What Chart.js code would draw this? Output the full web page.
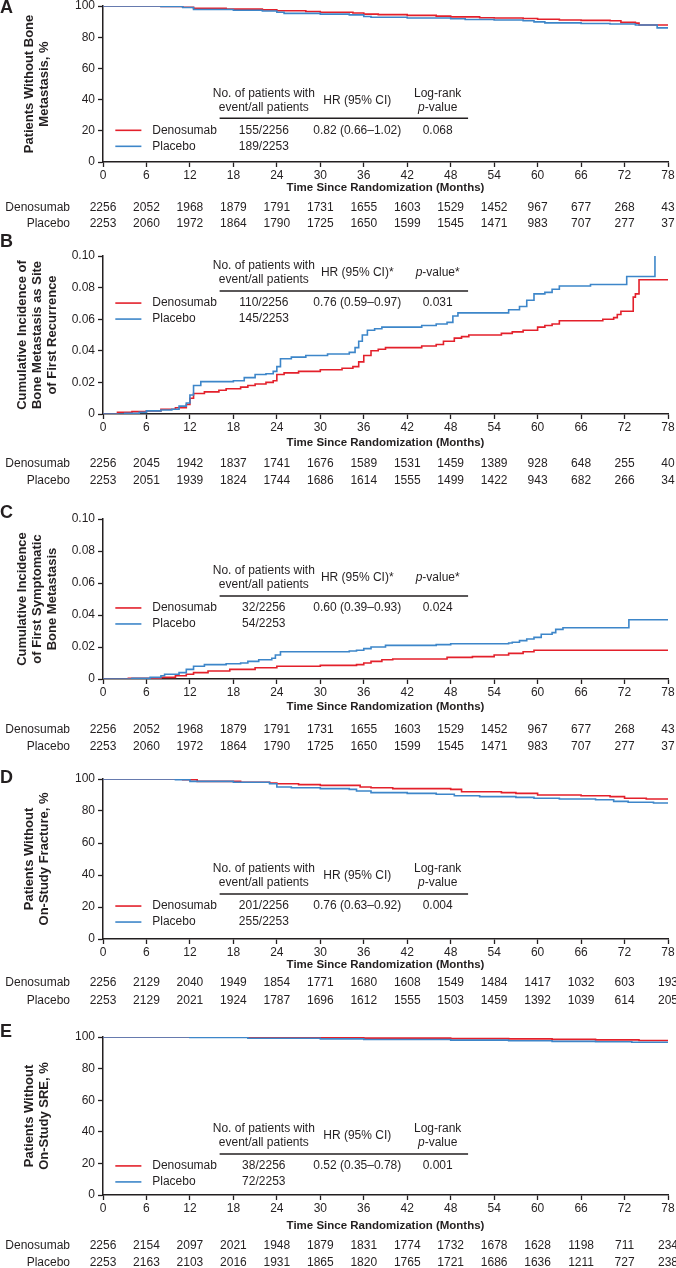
<!DOCTYPE html>
<html>
<head>
<meta charset="utf-8">
<script src="https://cdn.jsdelivr.net/npm/chart.js@4.4.0/dist/chart.umd.min.js"></script>
<style>
    body { margin: 0; background: #fff; width: 676px; height: 1268px; position: relative; overflow: hidden; }
    canvas { position: absolute; left: 0; }
</style>
</head>
<body>
<script>
// ========= Datos =========
const mesesTicks = [0, 6, 12, 18, 24, 30, 36, 42, 48, 54, 60, 66, 72, 78];
const ticksPct = [0, 20, 40, 60, 80, 100];
const ticksInc = [0, 0.02, 0.04, 0.06, 0.08, 0.10];
const nombres = ['Denosumab', 'Placebo'];

// A - sin metastasis osea
const tiempoA_deno = [0, 8, 11, 12.5, 17, 22, 24, 28, 30, 34.5, 36, 38, 42, 46, 48, 52, 54, 58, 60, 63, 66, 70, 71.5, 73.5, 74, 78];
const valorA_deno = [100, 99.7, 99.2, 98.5, 98, 97.5, 97, 96.5, 96, 95.5, 94.8, 94.5, 94, 93.5, 93, 92.5, 92.3, 92, 91.5, 91, 90.8, 90.5, 89.5, 89, 87.8, 87.8];
const tiempoA_plac = [0, 8, 11, 12.5, 18, 22, 24, 25, 30, 34, 36, 37, 42, 48, 50, 54, 58, 59.5, 61, 66, 70, 73.5, 76.5, 78];
const valorA_plac = [100, 99.7, 99, 97.8, 97.3, 96.8, 96, 95.3, 94.8, 94.3, 93.3, 92.8, 92.3, 91.8, 91.3, 91, 90.5, 89.8, 89.2, 88.8, 88.5, 87.8, 86, 86];
const riesgoA_deno = [2256, 2052, 1968, 1879, 1791, 1731, 1655, 1603, 1529, 1452, 967, 677, 268, 43];
const riesgoA_plac = [2253, 2060, 1972, 1864, 1790, 1725, 1650, 1599, 1545, 1471, 983, 707, 277, 37];
const eventosA = ['155/2256', '189/2253'];
const hrA = '0.82 (0.66–1.02)';
const pA = '0.068';

// B - incidencia acumulada, primera recurrencia
const tiempoB_deno = [0, 2, 4, 6, 8, 10, 11.5, 12, 12.5, 14, 16, 17, 19, 20, 21, 22.5, 23.5, 24, 25, 27, 30, 33, 34.5, 35.3, 36, 37, 38, 39, 43, 44, 46, 47, 48.5, 49.5, 50.5, 55, 56.5, 58, 60, 61, 62, 63, 69, 70.5, 71, 71.5, 73.2, 73.5, 74, 78];
const valorB_deno = [0, 0.001, 0.0015, 0.002, 0.003, 0.004, 0.006, 0.010, 0.013, 0.014, 0.015, 0.016, 0.017, 0.018, 0.019, 0.020, 0.021, 0.025, 0.026, 0.027, 0.028, 0.029, 0.030, 0.033, 0.037, 0.040, 0.041, 0.042, 0.042, 0.043, 0.044, 0.046, 0.048, 0.049, 0.050, 0.051, 0.052, 0.053, 0.055, 0.056, 0.057, 0.059, 0.060, 0.061, 0.063, 0.065, 0.074, 0.076, 0.085, 0.085];
const tiempoB_plac = [0, 3, 5, 6, 8, 9.5, 10.5, 11.5, 12, 12.5, 13.5, 18, 19.5, 21, 22.5, 23.5, 24, 24.5, 26, 28, 31, 34, 34.8, 35.3, 35.8, 36.5, 37.5, 38.5, 44, 46, 47.5, 48.3, 49, 56, 57.5, 58.5, 59.5, 61, 62, 63, 67.3, 72.3, 76.2];
const valorB_plac = [0, 0.0005, 0.001, 0.002, 0.0025, 0.003, 0.005, 0.007, 0.012, 0.018, 0.0205, 0.021, 0.023, 0.025, 0.0255, 0.027, 0.030, 0.035, 0.036, 0.037, 0.038, 0.039, 0.042, 0.046, 0.050, 0.053, 0.054, 0.055, 0.056, 0.057, 0.058, 0.062, 0.064, 0.066, 0.068, 0.072, 0.076, 0.077, 0.079, 0.081, 0.082, 0.087, 0.100];
const riesgoB_deno = [2256, 2045, 1942, 1837, 1741, 1676, 1589, 1531, 1459, 1389, 928, 648, 255, 40];
const riesgoB_plac = [2253, 2051, 1939, 1824, 1744, 1686, 1614, 1555, 1499, 1422, 943, 682, 266, 34];
const eventosB = ['110/2256', '145/2253'];
const hrB = '0.76 (0.59–0.97)';
const pB = '0.031';

// C - primera metastasis osea sintomatica
const tiempoC_deno = [0, 3.5, 8, 10, 11.5, 12.5, 14.5, 17.5, 21, 24, 30, 35, 36, 37, 38.5, 40, 47.5, 51, 54, 56, 58, 59.5, 78];
const valorC_deno = [0, 0.0005, 0.001, 0.002, 0.003, 0.004, 0.005, 0.006, 0.007, 0.008, 0.0085, 0.009, 0.010, 0.011, 0.012, 0.0125, 0.0135, 0.014, 0.015, 0.016, 0.017, 0.018, 0.018];
const tiempoC_plac = [0, 4, 6.5, 8, 8.5, 10.5, 11.5, 12.5, 14, 17, 19, 20, 21.5, 23.3, 23.8, 24.5, 34, 35, 36, 37, 39, 46, 48, 56, 56.5, 57.5, 58.5, 59.5, 60.5, 62, 62.5, 63.5, 72.6, 78];
const valorC_plac = [0, 0.0005, 0.001, 0.002, 0.003, 0.004, 0.006, 0.008, 0.009, 0.0095, 0.010, 0.011, 0.012, 0.013, 0.015, 0.017, 0.0175, 0.018, 0.019, 0.020, 0.021, 0.0215, 0.022, 0.0225, 0.023, 0.024, 0.025, 0.026, 0.028, 0.029, 0.031, 0.032, 0.037, 0.037];
const riesgoC_deno = [2256, 2052, 1968, 1879, 1791, 1731, 1655, 1603, 1529, 1452, 967, 677, 268, 43];
const riesgoC_plac = [2253, 2060, 1972, 1864, 1790, 1725, 1650, 1599, 1545, 1471, 983, 707, 277, 37];
const eventosC = ['32/2256', '54/2253'];
const hrC = '0.60 (0.39–0.93)';
const pC = '0.024';

// D - sin fractura
const tiempoD_deno = [0, 10, 11, 13, 19, 23, 24, 27, 30, 35.5, 37, 40, 48, 49.5, 55, 57, 60, 66, 70, 72, 75, 78];
const valorD_deno = [100, 100, 99.5, 98.5, 98, 97.5, 97, 96.5, 96, 95, 94.5, 94, 93.5, 92, 91.5, 91, 90, 89.5, 89, 88, 87.5, 87.5];
const tiempoD_plac = [0, 10, 12, 18, 23, 24, 26, 30, 34, 35, 37, 42, 46, 48.5, 52, 57, 59.5, 63, 68, 70.5, 72.5, 76, 78];
const valorD_plac = [100, 99.5, 98.5, 98, 97, 95, 94.5, 94, 93.5, 92.5, 91.5, 91, 90.5, 89.5, 89, 88.5, 88, 87.5, 87, 86, 85.5, 85, 85];
const riesgoD_deno = [2256, 2129, 2040, 1949, 1854, 1771, 1680, 1608, 1549, 1484, 1417, 1032, 603, 193];
const riesgoD_plac = [2253, 2129, 2021, 1924, 1787, 1696, 1612, 1555, 1503, 1459, 1392, 1039, 614, 205];
const eventosD = ['201/2256', '255/2253'];
const hrD = '0.76 (0.63–0.92)';
const pD = '0.004';

// E - sin SRE
const tiempoE_deno = [0, 12, 24, 36, 48, 56, 62, 68, 74, 78];
const valorE_deno = [100, 99.8, 99.5, 99.3, 99, 98.8, 98.5, 98.2, 97.8, 97.8];
const tiempoE_plac = [0, 12, 20, 30, 36, 48, 56, 62, 68, 73, 78];
const valorE_plac = [100, 99.7, 99.2, 98.8, 98.4, 98, 97.6, 97.2, 97, 96.7, 96.7];
const riesgoE_deno = [2256, 2154, 2097, 2021, 1948, 1879, 1831, 1774, 1732, 1678, 1628, 1198, 711, 234];
const riesgoE_plac = [2253, 2163, 2103, 2016, 1931, 1865, 1820, 1765, 1721, 1686, 1636, 1211, 727, 238];
const eventosE = ['38/2256', '72/2253'];
const hrE = '0.52 (0.35–0.78)';
const pE = '0.001';

// ========= Estilo =========
const FUENTE = '"Liberation Sans", Arial, sans-serif';
const NEGRO = '#231f20';
const ROJO = '#e3202b';
const AZUL = '#3d86c9';

const paneles = [
    { letra: 'A', letraY: 8, top: 6, alto: 156, yMax: 100, yTicks: ticksPct, titulo: ['Patients Without Bone', 'Metastasis, %'],
      deno: [tiempoA_deno, valorA_deno], plac: [tiempoA_plac, valorA_plac], riesgo: [riesgoA_deno, riesgoA_plac],
      eventos: eventosA, hr: hrA, p: pA, logrank: true, regla: 0.28, tituloX: 26, filas: [46, 62] },
    { letra: 'B', letraY: 242, top: 256, alto: 158, yMax: 0.10, yTicks: ticksInc, titulo: ['Cumulative Incidence of', 'Bone Metastasis as Site', 'of First Recurrence'],
      deno: [tiempoB_deno, valorB_deno], plac: [tiempoB_plac, valorB_plac], riesgo: [riesgoB_deno, riesgoB_plac],
      eventos: eventosB, hr: hrB, p: pB, logrank: false, regla: 0.778, tituloX: 29, filas: [50, 67] },
    { letra: 'C', letraY: 513, top: 519, alto: 160, yMax: 0.10, yTicks: ticksInc, titulo: ['Cumulative Incidence', 'of First Symptomatic', 'Bone Metastasis'],
      deno: [tiempoC_deno, valorC_deno], plac: [tiempoC_plac, valorC_plac], riesgo: [riesgoC_deno, riesgoC_plac],
      eventos: eventosC, hr: hrC, p: pC, logrank: false, regla: 0.519, tituloX: 28, filas: [51, 68] },
    { letra: 'D', letraY: 778, top: 779, alto: 160, yMax: 100, yTicks: ticksPct, titulo: ['Patients Without', 'On-Study Fracture, %'],
      deno: [tiempoD_deno, valorD_deno], plac: [tiempoD_plac, valorD_plac], riesgo: [riesgoD_deno, riesgoD_plac],
      eventos: eventosD, hr: hrD, p: pD, logrank: true, regla: 0.281, tituloX: 26, filas: [44, 62] },
    { letra: 'E', letraY: 1032, top: 1037, alto: 158, yMax: 100, yTicks: ticksPct, titulo: ['Patients Without', 'On-Study SRE, %'],
      deno: [tiempoE_deno, valorE_deno], plac: [tiempoE_plac, valorE_plac], riesgo: [riesgoE_deno, riesgoE_plac],
      eventos: eventosE, hr: hrE, p: pE, logrank: true, regla: 0.26, tituloX: 31, filas: [51, 68] }
];

const MARGEN_SUP = 30;
const MARGEN_INF = 80;

function puntos(par) {
    return par[0].map((t, i) => ({ x: t, y: par[1][i] }));
}

// texto con "p" en cursiva, centrado
function textoP(ctx, resto, cx, y) {
    ctx.font = 'italic 12px ' + FUENTE;
    const w1 = ctx.measureText('p').width;
    ctx.font = '12px ' + FUENTE;
    const w2 = ctx.measureText(resto).width;
    const x0 = cx - (w1 + w2) / 2;
    ctx.textAlign = 'left';
    ctx.font = 'italic 12px ' + FUENTE;
    ctx.fillText('p', x0, y);
    ctx.font = '12px ' + FUENTE;
    ctx.fillText(resto, x0 + w1, y);
}

function crearPanel(p) {
    const canvas = document.createElement('canvas');
    const alturaCanvas = MARGEN_SUP + p.alto + MARGEN_INF;
    const topCanvas = p.top - MARGEN_SUP;
    canvas.width = 676;
    canvas.height = alturaCanvas;
    canvas.style.top = topCanvas + 'px';
    document.body.appendChild(canvas);

    const altoEjeX = p.tituloX + 7;
    const lh = 15;
    const padTitulo = 37 - lh * p.titulo.length / 2;

    // tabla, leyenda y letra del panel
    const extras = {
        id: 'extras' + p.letra,
        afterDraw(chart) {
            const { ctx, chartArea: ca, scales: { x } } = chart;
            const yRegla = ca.bottom - p.regla * (ca.bottom - ca.top);
            ctx.save();
            ctx.fillStyle = NEGRO;
            ctx.textBaseline = 'middle';

            // letra
            ctx.font = 'bold 18px ' + FUENTE;
            ctx.textAlign = 'left';
            ctx.fillText(p.letra, 0, p.letraY - topCanvas);

            // cabecera
            const c1 = x.getPixelForValue(22.2);
            const c2 = x.getPixelForValue(35.1);
            const c3 = x.getPixelForValue(46.2);
            ctx.font = '12px ' + FUENTE;
            ctx.textAlign = 'center';
            ctx.fillText('No. of patients with', c1, yRegla - 25);
            ctx.fillText('event/all patients', c1, yRegla - 11);
            if (p.logrank) {
                ctx.fillText('HR (95% CI)', c2, yRegla - 18);
                ctx.fillText('Log-rank', c3, yRegla - 25);
                textoP(ctx, '-value', c3, yRegla - 11);
            } else {
                ctx.fillText('HR (95% CI)*', c2, yRegla - 18);
                textoP(ctx, '-value*', c3, yRegla - 18);
            }

            ctx.strokeStyle = NEGRO;
            ctx.lineWidth = 1.5;
            ctx.beginPath();
            ctx.moveTo(x.getPixelForValue(16.1), yRegla);
            ctx.lineTo(x.getPixelForValue(50.4), yRegla);
            ctx.stroke();

            // filas de la leyenda
            [ROJO, AZUL].forEach((color, i) => {
                const y = yRegla + (i ? 28 : 12);
                ctx.strokeStyle = color;
                ctx.lineWidth = 1.6;
                ctx.beginPath();
                ctx.moveTo(x.getPixelForValue(1.7), y);
                ctx.lineTo(x.getPixelForValue(5.3), y);
                ctx.stroke();
                ctx.font = '12px ' + FUENTE;
                ctx.textAlign = 'left';
                ctx.fillText(nombres[i], x.getPixelForValue(6.8), y);
                ctx.textAlign = 'center';
                ctx.fillText(p.eventos[i], c1, y);
                if (i === 0) {
                    ctx.fillText(p.hr, c2, y);
                    ctx.fillText(p.p, c3, y);
                }
            });

            // numero en riesgo
            p.riesgo.forEach((fila, i) => {
                const y = ca.bottom + p.filas[i];
                ctx.textAlign = 'right';
                ctx.fillText(nombres[i], 70, y);
                ctx.textAlign = 'center';
                mesesTicks.forEach((m, j) => ctx.fillText(String(fila[j]), x.getPixelForValue(m), y));
            });
            ctx.restore();
        }
    };

    const formato = p.yMax === 100 ? (v => String(v)) : (v => (v === 0 ? '0' : v.toFixed(2)));

    new Chart(canvas, {
        type: 'line',
        data: {
            datasets: [
                { label: 'Placebo', data: puntos(p.plac), borderColor: AZUL, borderWidth: 1.6, pointRadius: 0, stepped: 'before', fill: false },
                { label: 'Denosumab', data: puntos(p.deno), borderColor: ROJO, borderWidth: 1.6, pointRadius: 0, stepped: 'before', fill: false }
            ]
        },
        options: {
            responsive: false,
            animation: false,
            devicePixelRatio: 1,
            layout: { padding: { top: MARGEN_SUP, bottom: MARGEN_INF - altoEjeX, left: 0, right: 8 } },
            plugins: { legend: { display: false }, tooltip: { enabled: false } },
            scales: {
                x: {
                    type: 'linear', min: 0, max: 78,
                    afterBuildTicks: s => { s.ticks = mesesTicks.map(v => ({ value: v })); },
                    afterFit: s => { s.height = altoEjeX; },
                    grid: { drawOnChartArea: false, drawTicks: true, tickLength: 5, tickWidth: 1.3, tickColor: NEGRO },
                    border: { color: NEGRO, width: 1.5 },
                    ticks: { color: NEGRO, font: { family: FUENTE, size: 12 }, padding: 1, maxRotation: 0, autoSkip: false },
                    title: { display: true, text: 'Time Since Randomization (Months)', color: NEGRO,
                             font: { family: FUENTE, size: 11.5, weight: 'bold', lineHeight: 1.2 }, padding: { top: 0, bottom: 0 } }
                },
                y: {
                    type: 'linear', min: 0, max: p.yMax,
                    afterBuildTicks: s => { s.ticks = p.yTicks.map(v => ({ value: v })); },
                    afterFit: s => { s.width = 103; },
                    grid: { drawOnChartArea: false, drawTicks: true, tickLength: 5, tickWidth: 1.3, tickColor: NEGRO },
                    border: { color: NEGRO, width: 1.5 },
                    ticks: { color: NEGRO, font: { family: FUENTE, size: 12 }, padding: 3, callback: formato },
                    title: { display: true, text: p.titulo, color: NEGRO,
                             font: { family: FUENTE, size: 13, weight: 'bold', lineHeight: lh / 13 }, padding: { top: padTitulo, bottom: 0 } }
                }
            }
        },
        plugins: [extras]
    });
}

paneles.forEach(crearPanel);
</script>
</body>
</html>
